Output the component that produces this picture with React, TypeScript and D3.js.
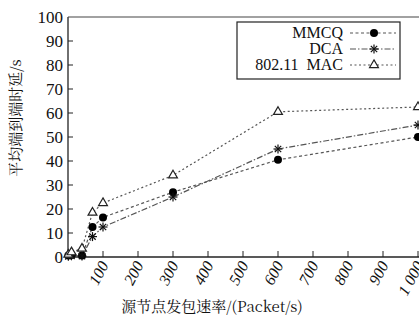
import React, { useEffect, useRef } from "react";
import * as d3 from "d3";

const rates = [1, 10, 40, 70, 100, 300, 600, 1000];
const mmcq = [0.6, 0.8, 0.6, 12.5, 16.5, 27, 40.5, 50];
const dca = [0.3, 0.5, 0.4, 8.5, 12.5, 25, 45, 55];
const mac = [1, 2, 3.5, 18.5, 22.5, 34, 60.5, 62.5];
const seriesNames = ["MMCQ", "DCA", "802.11  MAC"];
const xTicks = [100, 200, 300, 400, 500, 600, 700, 800, 900, 1000];
const xTickLabels = ["100", "200", "300", "400", "500", "600", "700", "800", "900", "1 000"];
const yTicks = [0, 10, 20, 30, 40, 50, 60, 70, 80, 90, 100];

const W = 419;
const H = 323;
const margin = { left: 68, top: 17, right: 0, bottom: 66 };
const serif = "Liberation Serif";
const cjk = "Noto Serif CJK SC";

export default function App() {
  const svgRef = useRef<SVGSVGElement>(null);

  useEffect(() => {
    const svg = d3.select(svgRef.current);
    svg.selectAll("*").remove();

    const x = d3.scaleLinear().domain([0, 1000]).range([margin.left, 418]);
    const y = d3.scaleLinear().domain([0, 100]).range([H - margin.bottom, margin.top]);
    const y0 = y(0);

    // frame: left, top, bottom
    svg.append("line").attr("x1", margin.left).attr("x2", margin.left).attr("y1", margin.top).attr("y2", y0)
      .attr("stroke", "#222").attr("stroke-width", 1.3);
    svg.append("line").attr("x1", margin.left).attr("x2", W).attr("y1", margin.top).attr("y2", margin.top)
      .attr("stroke", "#444").attr("stroke-width", 1.1);
    svg.append("line").attr("x1", margin.left).attr("x2", W).attr("y1", y0).attr("y2", y0)
      .attr("stroke", "#222").attr("stroke-width", 1.3);

    // y ticks (inside)
    svg.selectAll("line.ytick").data(yTicks.filter(d => d > 0 && d < 100)).join("line")
      .attr("class", "ytick")
      .attr("x1", margin.left).attr("x2", margin.left + 5)
      .attr("y1", d => y(d)).attr("y2", d => y(d))
      .attr("stroke", "#222").attr("stroke-width", 1);
    svg.selectAll("text.ylab").data(yTicks).join("text")
      .attr("class", "ylab")
      .attr("x", margin.left - 5).attr("y", d => y(d) + 5.5)
      .attr("text-anchor", "end")
      .attr("font-family", serif).attr("font-size", 17).attr("fill", "#111")
      .text(d => d);

    // x ticks (inside)
    svg.selectAll("line.xtick").data(xTicks).join("line")
      .attr("class", "xtick")
      .attr("x1", d => x(d)).attr("x2", d => x(d))
      .attr("y1", y0).attr("y2", y0 - 6)
      .attr("stroke", "#222").attr("stroke-width", 1);
    svg.selectAll("text.xlab").data(xTicks).join("text")
      .attr("class", "xlab")
      .attr("transform", d => `translate(${x(d) + 6},${y0 + 8}) rotate(-62)`)
      .attr("text-anchor", "end")
      .attr("font-family", serif).attr("font-size", 16).attr("font-style", "italic").attr("fill", "#111")
      .text((d, i) => xTickLabels[i]);

    // axis titles
    svg.append("text")
      .attr("x", 212).attr("y", 312)
      .attr("text-anchor", "middle")
      .attr("font-family", cjk).attr("font-size", 15).attr("fill", "#111")
      .text("源节点发包速率/(Packet/s)");
    svg.append("text")
      .attr("transform", `translate(21,${118}) rotate(-90)`)
      .attr("text-anchor", "middle")
      .attr("font-family", cjk).attr("font-size", 15).attr("fill", "#111")
      .text("平均端到端时延/s");

    const series = [
      { name: seriesNames[0], values: mmcq, dash: "3,2.5", marker: "circle" },
      { name: seriesNames[1], values: dca, dash: "6,2,1.5,2", marker: "star" },
      { name: seriesNames[2], values: mac, dash: "2,2.5", marker: "tri" },
    ];

    const line = d3.line<number>().x((d, i) => x(rates[i])).y(d => y(d));

    const drawMarker = (g: any, kind: string, cx: number, cy: number) => {
      if (kind === "circle") {
        g.append("circle").attr("cx", cx).attr("cy", cy).attr("r", 4).attr("fill", "#000");
      } else if (kind === "star") {
        const r = 4.5;
        [0, 45, 90, 135].forEach(a => {
          const rad = (a * Math.PI) / 180;
          g.append("line")
            .attr("x1", cx - r * Math.cos(rad)).attr("y1", cy - r * Math.sin(rad))
            .attr("x2", cx + r * Math.cos(rad)).attr("y2", cy + r * Math.sin(rad))
            .attr("stroke", "#111").attr("stroke-width", 1.2);
        });
      } else {
        const s = d3.symbol().type(d3.symbolTriangle).size(34)();
        g.append("path").attr("d", s).attr("transform", `translate(${cx},${cy})`)
          .attr("fill", "#fff").attr("stroke", "#222").attr("stroke-width", 1.2);
      }
    };

    series.forEach(s => {
      svg.append("path").datum(s.values).attr("d", line)
        .attr("fill", "none").attr("stroke", "#555").attr("stroke-width", 1.2)
        .attr("stroke-dasharray", s.dash);
    });
    series.forEach(s => {
      const g = svg.append("g");
      s.values.forEach((v, i) => drawMarker(g, s.marker, x(rates[i]), y(v)));
    });

    // legend
    const lg = svg.append("g");
    lg.append("rect").attr("x", 237).attr("y", 22).attr("width", 163).attr("height", 57)
      .attr("fill", "#fff").attr("stroke", "#222").attr("stroke-width", 1.2);
    series.forEach((s, i) => {
      const ly = 33 + i * 16;
      lg.append("text").attr("x", 343).attr("y", ly + 5).attr("text-anchor", "end")
        .attr("font-family", serif).attr("font-size", 16).attr("fill", "#111")
        .style("white-space", "pre")
        .text(s.name);
      lg.append("line").attr("x1", 350).attr("x2", 396).attr("y1", ly).attr("y2", ly)
        .attr("stroke", "#555").attr("stroke-width", 1.2).attr("stroke-dasharray", s.dash);
      drawMarker(lg, s.marker, 374, ly);
    });
  }, []);

  return (
    <svg ref={svgRef} width={W} height={H}
      style={{ position: "absolute", left: 0, top: 0, background: "#fff" }} />
  );
}
